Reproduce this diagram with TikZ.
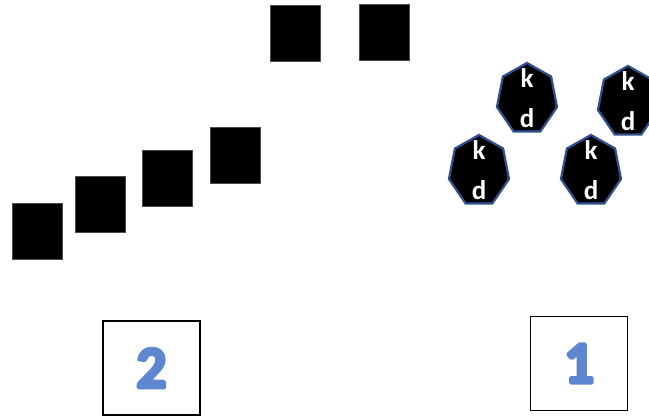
\documentclass[tikz,border=0pt]{standalone}
\usepackage{fontspec}
\setmainfont{Carlito}
\usetikzlibrary{shapes.geometric}
\definecolor{hepborder}{HTML}{2F528F}
\definecolor{digitblue}{HTML}{5F86D0}
\newcommand{\fatdigit}[1]{\special{pdf:literal direct 2 Tr 3.2 w 1 j}#1\special{pdf:literal direct 0 Tr 0.4 w 0 j}}
\tikzset{
  blk/.style={fill=black, draw=black!70, line width=0.6pt, minimum width=50pt, minimum height=56pt, inner sep=0pt},
  hep/.style={regular polygon, regular polygon sides=7, fill=black, draw=hepborder, line width=2.2pt, minimum size=70pt, yscale=1.03, xscale=0.88, inner sep=0pt},
  kdtext/.style={text=white, font=\fontsize{27}{40}\selectfont\bfseries, align=center},
  numbox/.style={draw=black, line width=1.3pt, minimum width=97pt, minimum height=94pt, inner sep=0pt},
  digit/.style={text=digitblue, font=\fontsize{60}{60}\selectfont\bfseries}
}
\begin{document}
\begin{tikzpicture}[x=1pt,y=-1pt]
\useasboundingbox (0,0) rectangle (649,420);
% black squares
\node[blk] (s1) at (37,231) {};
\node[blk] (s2) at (100,204) {};
\node[blk] (s3) at (167,178) {};
\node[blk] (s4) at (235,155) {};
\node[blk] (s5) at (295,33.5) {};
\node[blk] (s6) at (384,32.5) {};
% heptagons
\node[hep] (h1) at (527,99) {};
\node[kdtext] (t1) at (527,98) {k\\d};
\node[hep] (h2) at (628,102) {};
\node[kdtext] (t2) at (628,101) {k\\d};
\node[hep] (h3) at (479,171) {};
\node[kdtext] (t3) at (479,170) {k\\d};
\node[hep] (h4) at (591,171) {};
\node[kdtext] (t4) at (591,170) {k\\d};
% number boxes
\node[numbox] (b2) at (151.5,368) {};
\node[digit] (d2) at (b2) {\fatdigit{2}};
\node[numbox] (b1) at (579,363.5) {};
\node[digit] (d1) at (b1) {\fatdigit{1}};
\end{tikzpicture}
\end{document}
